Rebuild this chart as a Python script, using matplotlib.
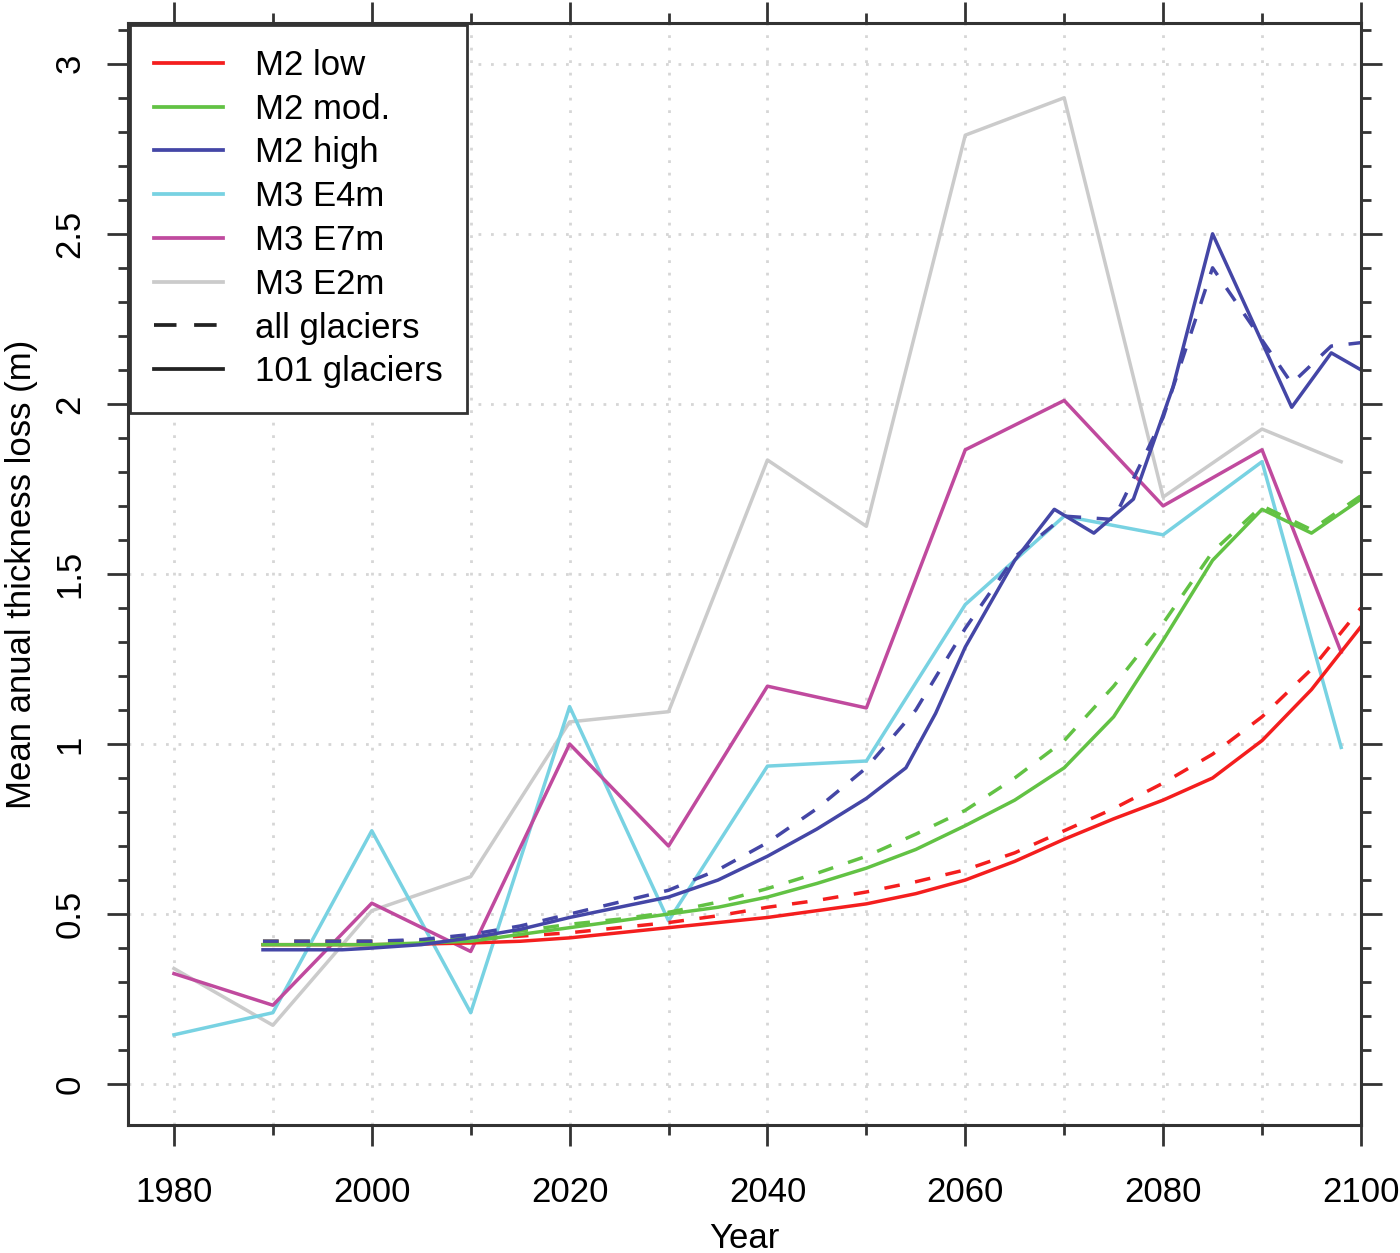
import matplotlib.pyplot as plt
import numpy as np
from matplotlib.lines import Line2D
from matplotlib.ticker import FixedLocator

plt.rcParams['font.family'] = ['Liberation Sans', 'DejaVu Sans']

# --- M3 runs (101 glaciers), decadal values ---
m3_years = [1980, 1990, 2000, 2010, 2020, 2030, 2040, 2050, 2060, 2070, 2080, 2090, 2098]
m3_e4m = [0.145, 0.21, 0.745, 0.21, 1.11, 0.48, 0.935, 0.95, 1.41, 1.67, 1.615, 1.83, 0.99]
m3_e7m = [0.325, 0.232, 0.532, 0.39, 1.0, 0.70, 1.17, 1.106, 1.865, 2.01, 1.70, 1.865, 1.27]
m3_e2m = [0.34, 0.173, 0.51, 0.61, 1.065, 1.095, 1.835, 1.64, 2.79, 2.90, 1.726, 1.926, 1.83]

# --- M2 runs ---
m2_years = [1989, 1995, 2000, 2005, 2010, 2015, 2020, 2025, 2030, 2035, 2040, 2045,
            2050, 2055, 2060, 2065, 2070, 2075, 2080, 2085, 2090, 2095, 2100]
low_101 = [0.41, 0.41, 0.41, 0.412, 0.415, 0.42, 0.43, 0.445, 0.46, 0.475, 0.49, 0.51,
           0.53, 0.56, 0.60, 0.655, 0.72, 0.78, 0.835, 0.90, 1.01, 1.16, 1.345]
low_all = [0.42, 0.42, 0.42, 0.42, 0.425, 0.435, 0.445, 0.46, 0.475, 0.495, 0.52, 0.54,
           0.565, 0.595, 0.63, 0.68, 0.745, 0.81, 0.885, 0.97, 1.08, 1.22, 1.40]
mod_101 = [0.41, 0.41, 0.41, 0.415, 0.42, 0.44, 0.46, 0.48, 0.50, 0.52, 0.55, 0.59,
           0.635, 0.69, 0.76, 0.835, 0.93, 1.08, 1.305, 1.54, 1.69, 1.62, 1.72]
mod_all = [0.42, 0.42, 0.42, 0.42, 0.43, 0.45, 0.47, 0.485, 0.505, 0.535, 0.575, 0.62,
           0.67, 0.735, 0.805, 0.90, 1.01, 1.17, 1.355, 1.565, 1.70, 1.63, 1.73]

high_101_years = [1989, 1997, 2000, 2005, 2010, 2015, 2020, 2025, 2030, 2035, 2040, 2045,
                  2050, 2054, 2057, 2060, 2065, 2069, 2073, 2077, 2081, 2085, 2093, 2097, 2100]
high_101 = [0.395, 0.395, 0.40, 0.41, 0.43, 0.455, 0.49, 0.52, 0.55, 0.60, 0.67, 0.75,
            0.84, 0.93, 1.09, 1.285, 1.54, 1.69, 1.62, 1.72, 2.05, 2.50, 1.99, 2.15, 2.10]
high_all_years = [1989, 2000, 2005, 2010, 2015, 2020, 2025, 2030, 2035, 2040, 2045, 2050,
                  2055, 2060, 2065, 2070, 2075, 2080, 2085, 2093, 2097, 2100]
high_all = [0.42, 0.42, 0.425, 0.44, 0.465, 0.50, 0.535, 0.57, 0.63, 0.71, 0.81, 0.93,
            1.10, 1.34, 1.55, 1.67, 1.66, 1.96, 2.40, 2.06, 2.17, 2.18]

c_low = '#f41e1e'
c_mod = '#62c244'
c_high = '#4446a6'
c_e4m = '#78d2e2'
c_e7m = '#c04a9e'
c_e2m = '#cbcbcb'

legend_labels = ['M2 low', 'M2 mod.', 'M2 high', 'M3 E4m', 'M3 E7m', 'M3 E2m',
                 'all glaciers', '101 glaciers']

fig = plt.figure(figsize=(14, 12.53), dpi=100)
ax = fig.add_axes([0.0914, 0.1022, 0.8807, 0.8795])

lw = 2.5
dash = (0, (4.5, 4.5))

ax.plot(m3_years, m3_e2m, color=c_e2m, lw=lw)
ax.plot(m3_years, m3_e4m, color=c_e4m, lw=lw)
ax.plot(m3_years, m3_e7m, color=c_e7m, lw=lw)

ax.plot(m2_years, low_all, color=c_low, lw=lw, ls=dash)
ax.plot(m2_years, mod_all, color=c_mod, lw=lw, ls=dash)
ax.plot(high_all_years, high_all, color=c_high, lw=lw, ls=dash)
ax.plot(m2_years, low_101, color=c_low, lw=lw)
ax.plot(m2_years, mod_101, color=c_mod, lw=lw)
ax.plot(high_101_years, high_101, color=c_high, lw=lw)

ax.set_xlim(1975.35, 2100)
ax.set_ylim(-0.12, 3.12)

ax.xaxis.set_major_locator(FixedLocator(np.arange(1980, 2101, 20)))
ax.xaxis.set_minor_locator(FixedLocator(np.arange(1990, 2100, 20)))
yt = [0, 0.5, 1, 1.5, 2, 2.5, 3]
ax.yaxis.set_major_locator(FixedLocator(yt))
ax.yaxis.set_minor_locator(FixedLocator([v / 10 for v in range(0, 32) if v % 5 != 0]))
ax.set_yticklabels(['0', '0.5', '1', '1.5', '2', '2.5', '3'])

ax.tick_params(which='both', direction='out', top=True, right=True,
               width=2, color='#333333', labelsize=25)
ax.tick_params(which='major', length=15)
ax.tick_params(which='minor', length=7)
ax.tick_params(axis='x', which='major', pad=22)
ax.tick_params(axis='y', which='major', pad=15)
for lab in ax.get_yticklabels():
    lab.set_rotation(90)
    lab.set_va('center')

grid_style = dict(ls=(0, (1, 3.5)), color='#d6d6d6', lw=2)
ax.grid(True, which='both', axis='x', **grid_style)
ax.grid(True, which='major', axis='y', **grid_style)
ax.set_axisbelow(True)

for sp in ax.spines.values():
    sp.set_linewidth(2.2)
    sp.set_color('#333333')

ax.set_xlabel('Year', fontsize=25, labelpad=9)
ax.set_ylabel('Mean anual thickness loss (m)', fontsize=25, labelpad=11)

hl = 2.7
handles = [Line2D([], [], color=c_low, lw=hl),
           Line2D([], [], color=c_mod, lw=hl),
           Line2D([], [], color=c_high, lw=hl),
           Line2D([], [], color=c_e4m, lw=hl),
           Line2D([], [], color=c_e7m, lw=hl),
           Line2D([], [], color=c_e2m, lw=hl),
           Line2D([], [], color='#222222', lw=hl, ls=(0, (6, 4.7))),
           Line2D([], [], color='#222222', lw=hl)]
leg = ax.legend(handles, legend_labels, loc='upper left', bbox_to_anchor=(0, 1),
                borderaxespad=0.05, fontsize=25, frameon=True, fancybox=False,
                edgecolor='#333333', framealpha=1, borderpad=0.7, handlelength=2.0,
                handletextpad=0.9, labelspacing=0.31)
leg.get_frame().set_linewidth(2)

fig.savefig('out.png', dpi=100)
